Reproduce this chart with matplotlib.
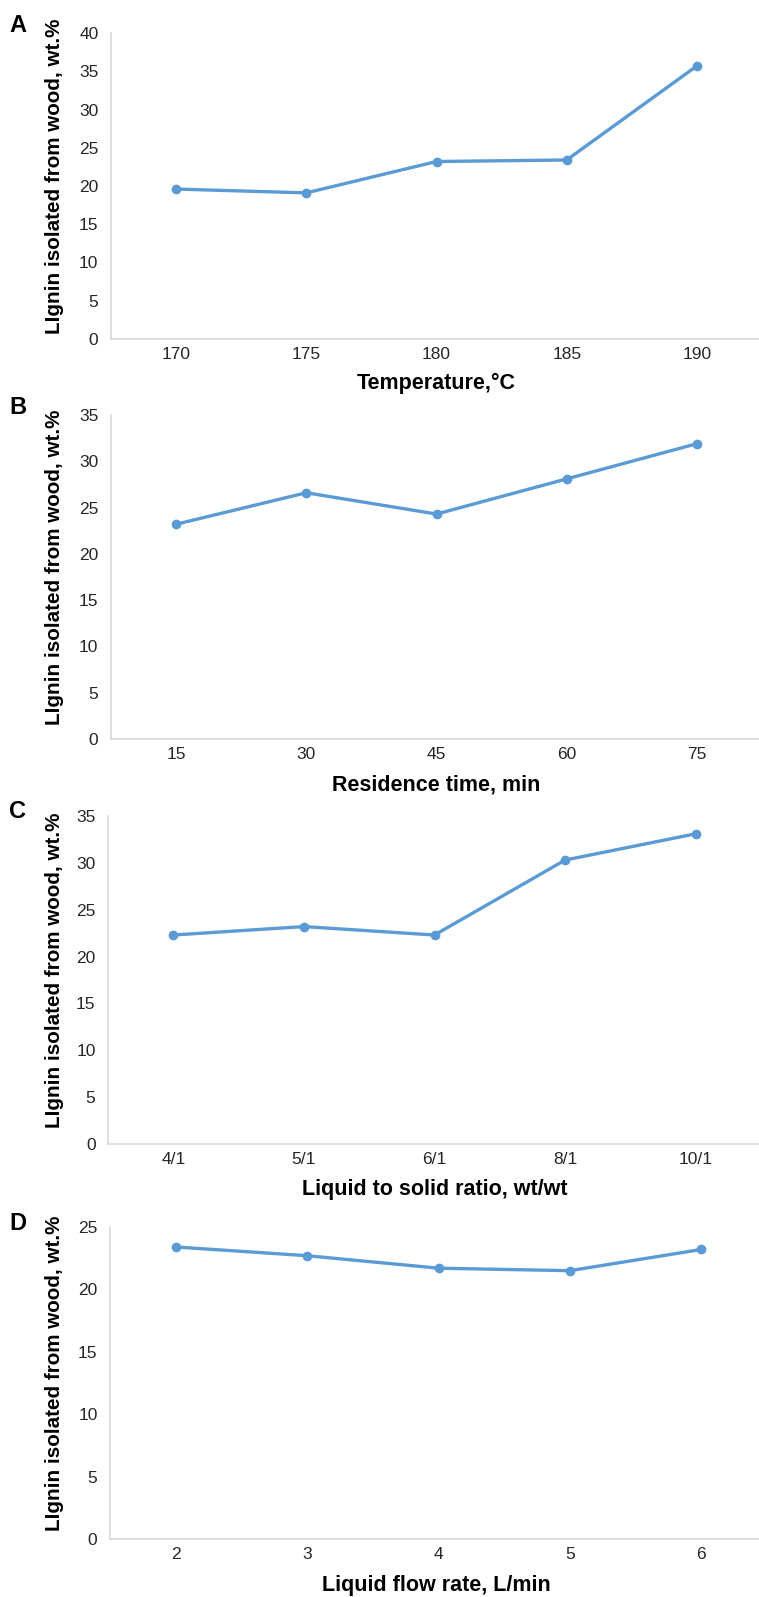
import matplotlib
matplotlib.use("Agg")
import matplotlib.pyplot as plt

plt.rcParams['font.family'] = ['Liberation Sans', 'DejaVu Sans']

# values
temp_labels = ['170', '175', '180', '185', '190']
temp_lignin = [19.6, 19.1, 23.2, 23.4, 35.7]

time_labels = ['15', '30', '45', '60', '75']
time_lignin = [23.2, 26.6, 24.3, 28.1, 31.9]

ratio_labels = ['4/1', '5/1', '6/1', '8/1', '10/1']
ratio_lignin = [22.3, 23.2, 22.3, 30.3, 33.1]

flow_labels = ['2', '3', '4', '5', '6']
flow_lignin = [23.4, 22.7, 21.7, 21.5, 23.2]

W, H = 759, 1597
fig = plt.figure(figsize=(W / 100, H / 100), dpi=100)

blue = '#5B9BD5'
grey = '#D9D9D9'
ylabel = 'LIgnin isolated from wood, wt.%'

# (letter, labels, values, xlabel, ymax, left, top, bottom, right, letter_y, xlabel_y)
panels = [
    ('A', temp_labels, temp_lignin, 'Temperature,°C', 40, 111, 33, 339, 762, 25, 383),
    ('B', time_labels, time_lignin, 'Residence time, min', 35, 111, 415, 739, 762, 408, 785),
    ('C', ratio_labels, ratio_lignin, 'Liquid to solid ratio, wt/wt', 35, 108, 816, 1144, 761, 812, 1190),
    ('D', flow_labels, flow_lignin, 'Liquid flow rate, L/min', 25, 110, 1227, 1539, 767, 1223, 1585),
]

for letter, labels, vals, xlab, ymax, left, top, bottom, right, ly, xly in panels:
    ax = fig.add_axes([left / W, 1 - bottom / H, (right - left) / W, (bottom - top) / H])
    x = range(len(labels))
    ax.plot(x, vals, color=blue, lw=2.4, marker='o', ms=6, clip_on=False, zorder=3)
    ax.set_xlim(-0.5, len(labels) - 0.5)
    ax.set_ylim(0, ymax)
    ax.set_yticks(range(0, ymax + 1, 5))
    ax.set_xticks(list(x))
    ax.set_xticklabels(labels)
    for s in ['top', 'right']:
        ax.spines[s].set_visible(False)
    for s in ['left', 'bottom']:
        ax.spines[s].set_color(grey)
        ax.spines[s].set_linewidth(1.2)
    ax.tick_params(axis='both', length=0, labelsize=12.5, colors='#262626')
    ax.tick_params(axis='y', pad=9)
    ax.tick_params(axis='x', pad=5.5)

    xmid = (left + min(right, W + 3)) / 2
    fig.text(xmid / W, 1 - xly / H, xlab, ha='center', va='center',
             fontsize=15.5, fontweight='bold', color='black')
    fig.text(55 / W, 1 - ((top + bottom) / 2 - 10) / H, ylabel, rotation=90,
             ha='center', va='center', fontsize=14.9, fontweight='bold', color='black')
    fig.text(18 / W, 1 - ly / H, letter, ha='center', va='center',
             fontsize=17, fontweight='bold', color='black')

fig.savefig('out.png', dpi=100)
